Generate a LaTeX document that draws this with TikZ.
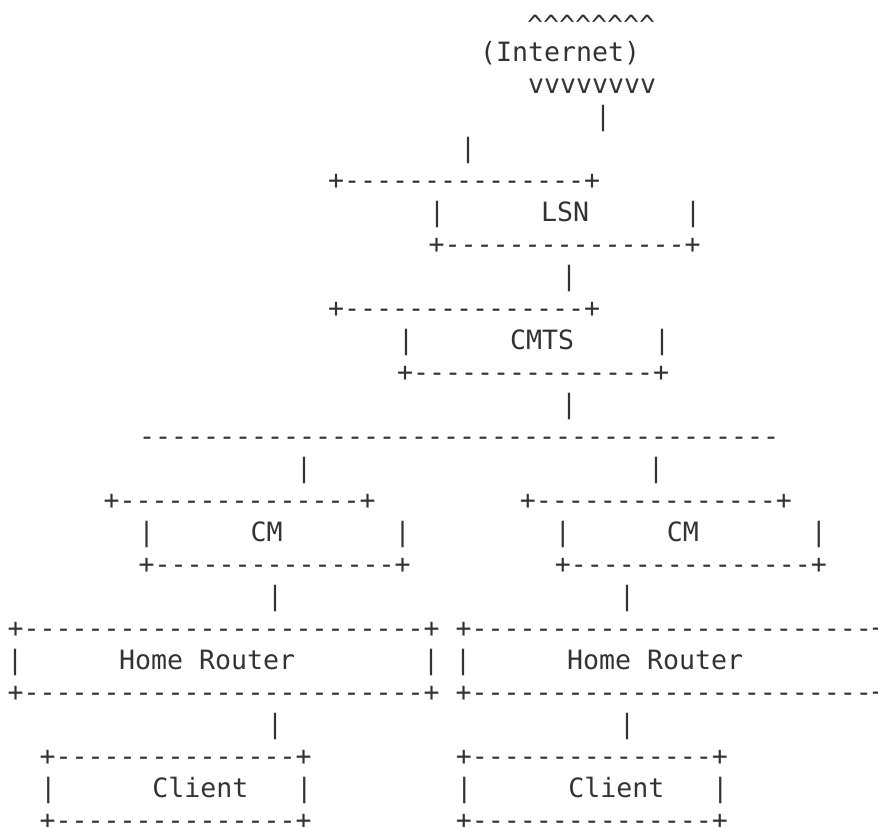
\documentclass[tikz,border=0pt]{standalone}
\usepackage{fontspec}
\setmonofont{DejaVu Sans Mono}
\definecolor{ink}{HTML}{333333}
% repeat a character n times
\ExplSyntaxOn
\NewDocumentCommand\rpt{mm}{\prg_replicate:nn{#1}{#2}}
\ExplSyntaxOff
\newcommand\asciifont{\ttfamily\fontsize{26.58}{32}\selectfont}
\tikzset{
  row/.style={anchor=base west, inner sep=0pt, outer sep=0pt, font=\asciifont, text=ink}
}
\begin{document}
\begin{tikzpicture}[x=1pt,y=1pt]
\useasboundingbox (0,0) rectangle (878,-827);
\clip (0,0) rectangle (878,-827);
% Internet cloud
\node[row] (up)    at (527,-34) {\rpt{8}{\string^}};
\node[row] (inet)  at (480,-61) {(Internet)};
\node[row] (down)  at (528,-93) {vvvvvvvv};
\node[row] (lnkA)  at (595,-125) {|};
\node[row] (lnkB)  at (460,-157) {|};
% LSN
\node[row] (lsnT)  at (328,-189) {+\rpt{15}{-}+};
\node[row] (lsn)   at (429,-221) {|\rpt{6}{~}LSN\rpt{6}{~}|};
\node[row] (lsnB)  at (428.7,-253) {+\rpt{15}{-}+};
\node[row] (lnkC)  at (561,-285) {|};
% CMTS
\node[row] (cmtsT) at (328,-317) {+\rpt{15}{-}+};
\node[row] (cmts)  at (398,-349) {|\rpt{6}{~}CMTS\rpt{5}{~}|};
\node[row] (cmtsB) at (397,-381) {+\rpt{15}{-}+};
\node[row] (lnkD)  at (561,-413) {|};
% shared cable segment
\node[row] (bus)   at (139,-445) {\rpt{40}{-}};
\node[row] (lnkE)  at (296,-477) {|\rpt{21}{~}|};
% cable modems
\node[row] (cmT)   at (103.7,-509) {+\rpt{15}{-}+\rpt{9}{~}+\rpt{15}{-}+};
\node[row] (cm)    at (138.7,-541) {|\rpt{6}{~}CM\rpt{7}{~}|\rpt{9}{~}|\rpt{6}{~}CM\rpt{7}{~}|};
\node[row] (cmB)   at (138.7,-573) {+\rpt{15}{-}+\rpt{9}{~}+\rpt{15}{-}+};
\node[row] (lnkF)  at (267,-605) {|\rpt{21}{~}|};
% home routers
\node[row] (hrT)   at (7.7,-637) {+\rpt{25}{-}+~+\rpt{25}{-}+};
\node[row] (hr)    at (7,-669) {|\rpt{6}{~}Home~Router\rpt{8}{~}|~|\rpt{6}{~}Home~Router};
\node[row] (hrB)   at (7.7,-701) {+\rpt{25}{-}+~+\rpt{25}{-}+};
\node[row] (lnkG)  at (267,-733) {|\rpt{21}{~}|};
% clients
\node[row] (clT)   at (39.7,-765) {+\rpt{15}{-}+\rpt{9}{~}+\rpt{15}{-}+};
\node[row] (cl)    at (40.3,-797) {|\rpt{6}{~}Client\rpt{3}{~}|\rpt{9}{~}|\rpt{6}{~}Client\rpt{3}{~}|};
\node[row] (clB)   at (39.7,-829) {+\rpt{15}{-}+\rpt{9}{~}+\rpt{15}{-}+};
\end{tikzpicture}
\end{document}
